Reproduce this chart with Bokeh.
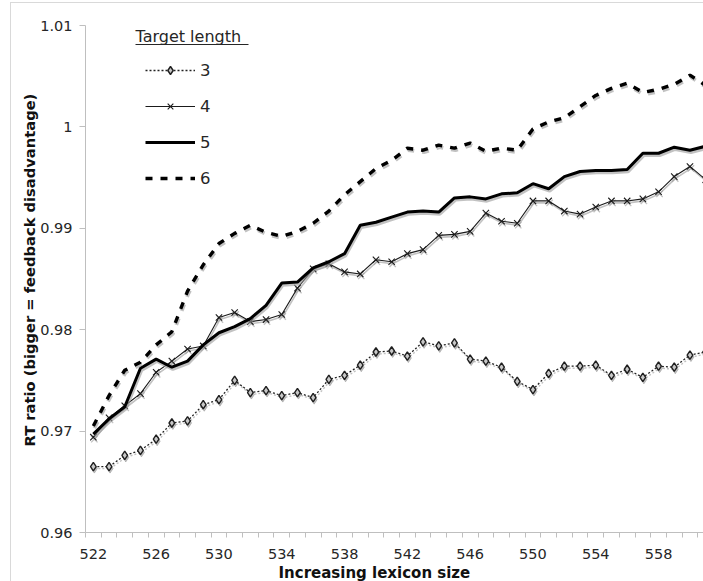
import math
from bokeh.plotting import figure
from bokeh.models import (Range1d, FixedTicker, Legend, LegendItem, Label,
                          BoxAnnotation, Title)
from bokeh.embed import file_html
from bokeh.resources import INLINE

# ---------------- data ----------------
lexicon = list(range(522, 562))
s3 = [0.9665, 0.9665, 0.9676, 0.9681, 0.9692, 0.9708, 0.9710, 0.9726, 0.9731, 0.9750,
      0.9738, 0.9740, 0.9735, 0.9738, 0.9733, 0.9751, 0.9755, 0.9765, 0.9778, 0.9779,
      0.9774, 0.9788, 0.9784, 0.9787, 0.9771, 0.9769, 0.9763, 0.9749, 0.9741, 0.9757,
      0.9764, 0.9764, 0.9765, 0.9755, 0.9761, 0.9753, 0.9764, 0.9763, 0.9775, 0.9778]
s4 = [0.9694, 0.9713, 0.9725, 0.9737, 0.9758, 0.9769, 0.9781, 0.9784, 0.9812, 0.9817,
      0.9808, 0.9810, 0.9815, 0.9841, 0.9860, 0.9865, 0.9857, 0.9855, 0.9869, 0.9867,
      0.9875, 0.9879, 0.9893, 0.9894, 0.9897, 0.9915, 0.9907, 0.9905, 0.9927, 0.9927,
      0.9917, 0.9914, 0.9921, 0.9927, 0.9927, 0.9929, 0.9936, 0.9951, 0.9961, 0.9948]
s5 = [0.9697, 0.9712, 0.9724, 0.9762, 0.9771, 0.9763, 0.9769, 0.9785, 0.9797, 0.9803,
      0.9811, 0.9824, 0.9846, 0.9847, 0.9861, 0.9867, 0.9875, 0.9903, 0.9906, 0.9911,
      0.9916, 0.9917, 0.9916, 0.9930, 0.9931, 0.9929, 0.9934, 0.9935, 0.9944, 0.9939,
      0.9951, 0.9956, 0.9957, 0.9957, 0.9958, 0.9974, 0.9974, 0.9980, 0.9977, 0.9981]
s6 = [0.9705, 0.9735, 0.9760, 0.9768, 0.9785, 0.9798, 0.9838, 0.9864, 0.9885, 0.9895,
      0.9903, 0.9896, 0.9892, 0.9897, 0.9905, 0.9917, 0.9933, 0.9946, 0.9959, 0.9967,
      0.9979, 0.9977, 0.9982, 0.9979, 0.9984, 0.9976, 0.9979, 0.9977, 0.9998, 1.0005,
      1.0009, 1.0020, 1.0031, 1.0038, 1.0043, 1.0034, 1.0037, 1.0042, 1.0051, 1.0041]
series_names = ["3", "4", "5", "6"]
x_ticks = [522, 526, 530, 534, 538, 542, 546, 550, 554, 558]
x_tick_labels = ["522", "526", "530", "534", "538", "542", "546", "550", "554", "558"]
y_ticks = [0.96, 0.97, 0.98, 0.99, 1.0, 1.01]
y_tick_labels = ["0.96", "0.97", "0.98", "0.99", "1", "1.01"]
legend_title = "Target length"
x_title = "Increasing lexicon size"
y_title = "RT ratio (bigger = feedback disadvantage)"

# ---------------- layout ----------------
W, H = 703, 581
FL, FT, FB = 85, 25, 48
FH = H - FT - FB
STEP = 15.7
X0 = lexicon[0] - 0.5
X1 = X0 + (W - FL) / STEP
Y0, Y1 = y_ticks[0], y_ticks[-1]
PPU = FH / (Y1 - Y0)

def dx(px):  # canvas px -> data x
    return X0 + (px - FL) / STEP

def dy(py):  # canvas px -> data y
    return Y0 + (FT + FH - py) / PPU

FONT = "DejaVu Sans"
TXT = "#262626"
AX = "#bfbfbf"

p = figure(width=W, height=H, output_backend="svg", toolbar_location=None,
           x_range=Range1d(X0, X1), y_range=Range1d(Y0, Y1),
           min_border_left=FL, min_border_right=0, min_border_top=FT,
           min_border_bottom=FB)
p.outline_line_color = None
p.xgrid.visible = False
p.ygrid.visible = False
p.background_fill_color = "white"
p.border_fill_color = None
# light-grey chart-area border (top and left edges), drawn behind the canvas
p.styles = {"background": (
    "linear-gradient(#d9d9d9, #d9d9d9) 10px 2px / 100% 1px no-repeat, "
    "linear-gradient(#d9d9d9, #d9d9d9) 10px 2px / 1px 100% no-repeat, white")}

# shadow ranges (offset 2px down, 1px right)
p.extra_y_ranges = {"sh": Range1d(Y0 + 2 / PPU, Y1 + 2 / PPU)}
p.extra_x_ranges = {"sh": Range1d(X0 - 1 / STEP, X1 - 1 / STEP)}

# axes
xa = p.xaxis[0]
xa.ticker = FixedTicker(ticks=x_ticks,
                        minor_ticks=[v - 0.5 for v in lexicon] + [lexicon[-1] + 0.5])
xa.major_label_overrides = dict(zip(x_ticks, x_tick_labels))
xa.major_tick_line_color = None
xa.major_tick_out = 5
xa.major_tick_in = 0
xa.minor_tick_line_color = AX
xa.minor_tick_out = 5
xa.minor_tick_in = 0
xa.axis_line_color = AX
xa.major_label_standoff = 11
xa.major_label_text_font = FONT
xa.major_label_text_font_size = "14.5px"
xa.major_label_text_color = TXT

ya = p.yaxis[0]
ya.ticker = FixedTicker(ticks=y_ticks)
ya.major_label_overrides = dict(zip(y_ticks, y_tick_labels))
ya.major_tick_line_color = AX
ya.major_tick_out = 6
ya.major_tick_in = 0
ya.minor_tick_line_color = None
ya.axis_line_color = AX
ya.major_label_standoff = 7
ya.major_label_text_font = FONT
ya.major_label_text_font_size = "14.5px"
ya.major_label_text_color = TXT

SH = dict(x_range_name="sh", y_range_name="sh", line_color="#999999", line_alpha=0.6)

# series 3 : dotted + diamonds
p.line(lexicon, s3, line_width=1.4, line_dash="2 2", **SH)
p.scatter(lexicon, s3, marker="diamond", size=9, fill_color="#999999", fill_alpha=0.6, **SH)
l3 = p.line(lexicon, s3, line_color="#222222", line_width=1.3, line_dash="2 2")
m3 = p.scatter(lexicon, s3, marker="diamond", size=8.5, fill_color="#c8c8c8",
               line_color="#1f1f1f", line_width=1.4)

# series 4 : thin + x
p.line(lexicon, s4, line_width=1.6, **SH)
p.scatter(lexicon, s4, marker="x", size=9, line_width=1.3, **SH)
l4 = p.line(lexicon, s4, line_color="#1a1a1a", line_width=1.1)
m4 = p.scatter(lexicon, s4, marker="x", size=9, line_color="#1a1a1a", line_width=1.1)

# series 5 : thick solid
p.line(lexicon, s5, line_width=3.5, **SH)
l5 = p.line(lexicon, s5, line_color="black", line_width=3.0)

# series 6 : thick dashed
p.line(lexicon, s6, line_width=3.8, line_dash="7 8", **SH)
l6 = p.line(lexicon, s6, line_color="black", line_width=3.4, line_dash="7 8")

legend = Legend(items=[LegendItem(label=series_names[0], renderers=[l3, m3]),
                       LegendItem(label=series_names[1], renderers=[l4, m4]),
                       LegendItem(label=series_names[2], renderers=[l5]),
                       LegendItem(label=series_names[3], renderers=[l6])],
                location=(60, FH - 164), glyph_width=50, glyph_height=20,
                label_height=20, spacing=16, padding=0, margin=0,
                label_standoff=5, label_text_font=FONT,
                label_text_font_size="16.5px", label_text_color=TXT,
                border_line_color=None, background_fill_alpha=0)
p.add_layout(legend)

# legend title with underline
p.add_layout(Label(x=dx(135), y=dy(36), text=legend_title, text_font=FONT,
                   text_font_size="16px", text_color=TXT,
                   text_align="left", text_baseline="middle"))
p.add_layout(BoxAnnotation(left=dx(135), right=dx(248), top=dy(43.5), bottom=dy(44.5),
                           fill_color=TXT, fill_alpha=1, line_color=None))

# axis titles
p.add_layout(Title(text=x_title, align="left", offset=193, standoff=0,
                   text_font=FONT, text_font_size="15px", text_font_style="bold",
                   text_color="#111111"), "below")
p.add_layout(Title(text=y_title, align="left", offset=86, standoff=0,
                   text_font=FONT, text_font_size="14.7px", text_font_style="bold",
                   text_color="#111111"), "left")

open("out.html", "w").write(file_html(p, INLINE))
